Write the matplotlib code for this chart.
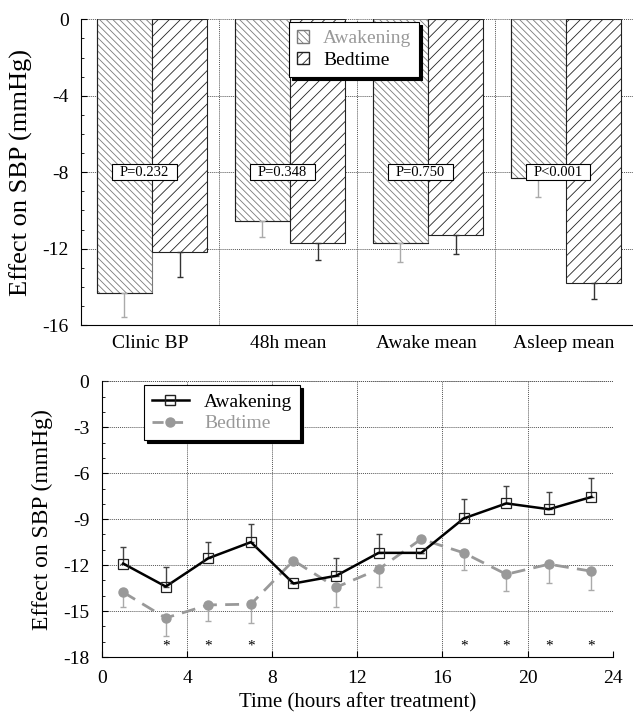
import matplotlib
matplotlib.use("Agg")
import matplotlib.pyplot as plt
from matplotlib.patches import Patch, Rectangle
from matplotlib.lines import Line2D
from matplotlib.ticker import MultipleLocator
import numpy as np

plt.rcParams["font.family"] = ["Liberation Serif", "DejaVu Serif"]
plt.rcParams["hatch.linewidth"] = 0.6
plt.rcParams["axes.unicode_minus"] = False

# Top panel data
groups = ["Clinic BP", "48h mean", "Awake mean", "Asleep mean"]
awak_bar = [-14.3, -10.55, -11.7, -8.28]
awak_bar_err = [1.3, 0.85, 1.0, 1.0]
bed_bar = [-12.2, -11.7, -11.3, -13.8]
bed_bar_err = [1.3, 0.87, 1.0, 0.86]
p_labels = ["P=0.232", "P=0.348", "P=0.750", "P<0.001"]

# Bottom panel data
hours = [1, 3, 5, 7, 9, 11, 13, 15, 17, 19, 21, 23]
awak_line = [-11.9, -13.4, -11.55, -10.5, -13.2, -12.7, -11.2, -11.2, -8.95, -7.97, -8.35, -7.55]
awak_line_err = [1.1, 1.3, 1.05, 1.17, 0, 1.15, 1.2, 0, 1.25, 1.12, 1.1, 1.22]
bed_line = [-13.77, -15.45, -14.6, -14.55, -11.7, -13.45, -12.27, -10.3, -11.2, -12.6, -11.94, -12.4]
bed_line_err = [0.98, 1.15, 1.05, 1.25, 0, 1.3, 1.18, 0, 1.13, 1.1, 1.26, 1.23]
star_hours = [3, 5, 7, 17, 19, 21, 23]

gray = "#999999"
dot = (0, (1, 1))
fig = plt.figure(figsize=(6.33, 7.16), dpi=100)

# ---- top: bars
ax1 = fig.add_axes([0.128, 0.546, 0.872, 0.427])
x = np.arange(len(groups))
w = 0.4
ax1.bar(x - 0.385, awak_bar, width=w, align="edge", color="white",
        edgecolor="#7a7a7a", hatch="\\\\\\\\\\", linewidth=0.8, zorder=2)
ax1.bar(x + 0.015, bed_bar, width=w, align="edge", color="white",
        edgecolor="#222222", hatch="///", linewidth=0.8, zorder=2)
# dark outline on the awakening bars
for i in range(len(groups)):
    ax1.plot([x[i] - 0.385, x[i] - 0.385, x[i] + 0.015],
             [0, awak_bar[i], awak_bar[i]], color="#222222", lw=0.8, zorder=3)
ax1.errorbar(x - 0.185, awak_bar, yerr=[awak_bar_err, [0] * 4], fmt="none",
             ecolor="#aaaaaa", elinewidth=1, capsize=2.5, zorder=3)
ax1.errorbar(x + 0.215, bed_bar, yerr=[bed_bar_err, [0] * 4], fmt="none",
             ecolor="#333333", elinewidth=1, capsize=2.5, zorder=3)
# P value boxes
for i, p in enumerate(p_labels):
    ax1.add_patch(Rectangle((x[i] - 0.04 - 0.232, -8.42), 0.464, 0.84,
                            facecolor="white", edgecolor="black", lw=0.8, zorder=5))
    ax1.text(x[i] - 0.04, -8, p, ha="center", va="center", fontsize=10.5, zorder=6)

ax1.set_xlim(-0.5, 3.5)
ax1.set_ylim(-16, 0)
ax1.set_yticks([0, -4, -8, -12, -16])
ax1.yaxis.set_minor_locator(MultipleLocator(1))
ax1.set_xticks(x)
ax1.set_xticklabels(groups, fontsize=14)
ax1.tick_params(axis="x", length=0, pad=7)
ax1.tick_params(axis="y", direction="in", labelsize=14, length=4, pad=9)
ax1.tick_params(axis="y", which="minor", direction="in", length=2)
for v in [0, -4, -8, -12]:
    ax1.axhline(v, color="#555555", lw=0.7, ls=dot, zorder=1)
for v in [0.5, 1.5, 2.5]:
    ax1.axvline(v, color="#555555", lw=0.7, ls=dot, zorder=1)
ax1.spines["top"].set_visible(False)
ax1.spines["right"].set_visible(False)
ax1.set_ylabel("Effect on SBP (mmHg)", fontsize=19)
ax1.yaxis.set_label_coords(-0.087, 0.5)

h1 = [Patch(facecolor="white", edgecolor="#7a7a7a", hatch="\\\\\\\\\\"),
      Patch(facecolor="white", edgecolor="#222222", hatch="///")]
leg1 = ax1.legend(h1, ["Awakening", "Bedtime"], loc="upper left",
                  bbox_to_anchor=(0.377, 0.99), fontsize=14, fancybox=False,
                  shadow={"color": "black", "alpha": 1}, framealpha=1,
                  edgecolor="black", handlelength=0.6, handleheight=0.6,
                  handletextpad=0.75, borderpad=0.4, labelspacing=0.25,
                  borderaxespad=0)
leg1.get_frame().set_linewidth(0.8)
leg1.get_texts()[0].set_color(gray)
leg1.set_zorder(7)

# ---- bottom: lines
ax2 = fig.add_axes([0.161, 0.0824, 0.807, 0.385])
ax2.errorbar(hours, bed_line, yerr=[bed_line_err, [0] * 12], fmt="none",
             ecolor="#aaaaaa", elinewidth=1, capsize=2.5, zorder=2)
ax2.plot(hours, bed_line, color=gray, lw=2, ls=(0, (5, 3)), marker="o",
         ms=6.5, mfc=gray, mec=gray, zorder=3)
ax2.errorbar(hours, awak_line, yerr=[[0] * 12, awak_line_err], fmt="none",
             ecolor="#444444", elinewidth=1, capsize=2.5, zorder=4)
ax2.plot(hours, awak_line, color="black", lw=1.8, marker="s", ms=6.5,
         mfc="none", mec="#222222", mew=0.9, zorder=5)
for h in star_hours:
    ax2.text(h, -17.3, "*", ha="center", va="center", fontsize=11)

ax2.set_xlim(0, 24)
ax2.set_ylim(-18, 0)
ax2.set_xticks(range(0, 25, 4))
ax2.set_yticks(range(0, -19, -3))
ax2.yaxis.set_minor_locator(MultipleLocator(1))
ax2.tick_params(direction="in", labelsize=14, length=4)
ax2.tick_params(axis="y", pad=9)
ax2.tick_params(axis="x", pad=9)
ax2.tick_params(axis="y", which="minor", direction="in", length=2)
ax2.grid(True, color="#555555", lw=0.7, ls=dot)
ax2.set_axisbelow(True)
ax2.spines["top"].set_visible(False)
ax2.spines["right"].set_visible(False)
ax2.axhline(0, color="#555555", lw=0.7, ls=dot, zorder=1)
ax2.axvline(24, color="#555555", lw=0.7, ls=dot, zorder=1)
ax2.set_ylabel("Effect on SBP (mmHg)", fontsize=17)
ax2.yaxis.set_label_coords(-0.096, 0.5)
ax2.set_xlabel("Time (hours after treatment)", fontsize=15, labelpad=5)

h2 = [Line2D([], [], color="black", lw=1.8, marker="s", ms=6.5, mfc="none", mec="#222222"),
      Line2D([], [], color=gray, lw=2, ls=(0, (4, 3)), marker="o", ms=6.5, mfc=gray, mec=gray)]
leg2 = ax2.legend(h2, ["Awakening", "Bedtime"], loc="upper left",
                  bbox_to_anchor=(0.082, 0.985), fontsize=14, fancybox=False,
                  shadow={"color": "black", "alpha": 1}, framealpha=1,
                  edgecolor="black", handlelength=1.9, handletextpad=0.8,
                  borderpad=0.4, labelspacing=0.2, borderaxespad=0)
leg2.get_frame().set_linewidth(0.8)
leg2.get_texts()[1].set_color(gray)

fig.savefig("out.png", dpi=100)
